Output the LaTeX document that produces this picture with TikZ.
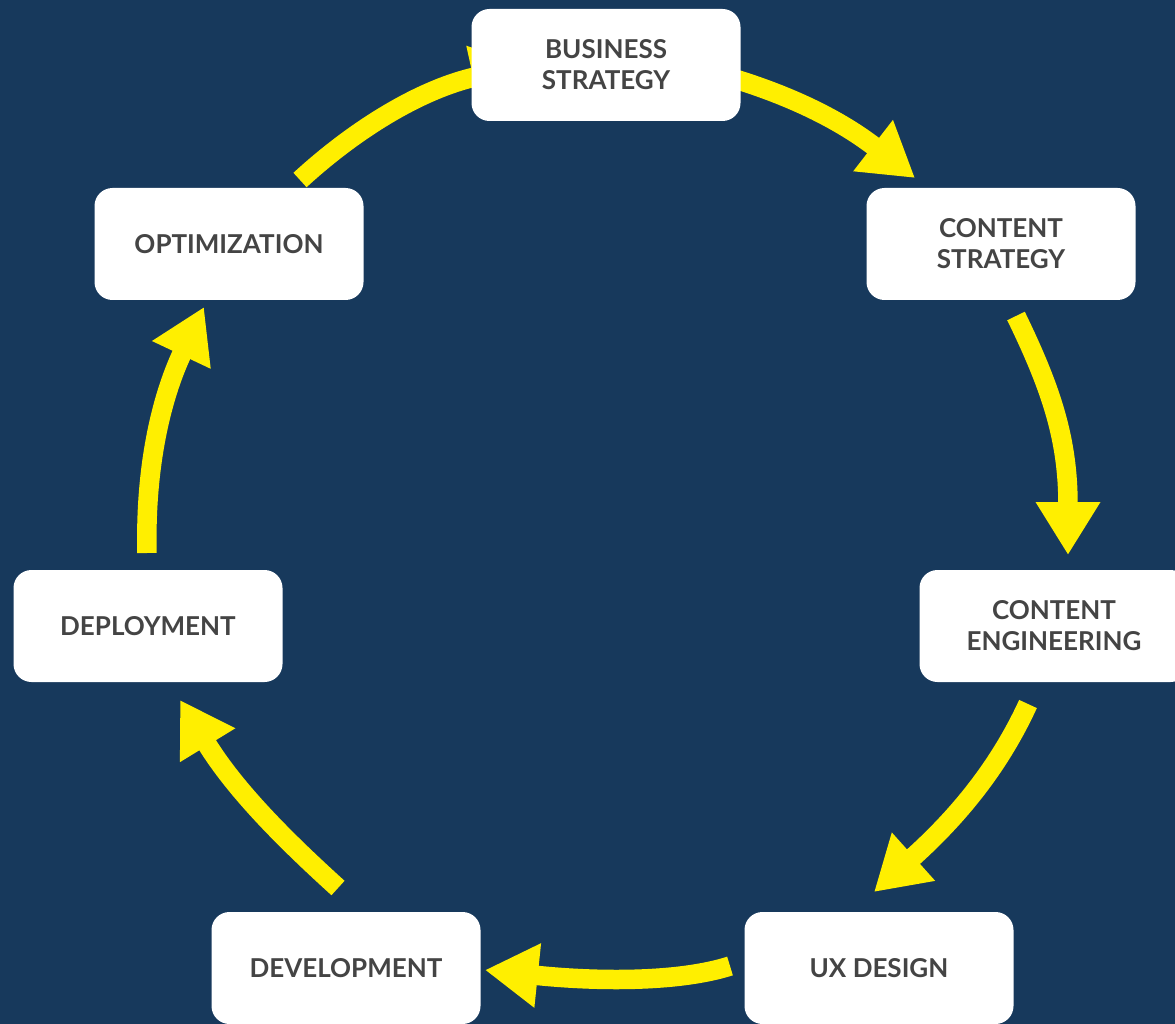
\documentclass[tikz,border=0pt]{standalone}
\usepackage{fontspec}
\setmainfont{Lato}
\usetikzlibrary{arrows.meta}

\definecolor{navy}{HTML}{17395C}
\definecolor{sunny}{HTML}{FFEF00}
\definecolor{ink}{HTML}{444444}

\begin{document}
\begin{tikzpicture}[x=1pt,y=-1pt,
  stage/.style={fill=white, rounded corners=18pt, minimum width=269pt,
    minimum height=112pt, inner sep=0pt, align=center, text=ink,
    font=\bfseries\fontsize{26}{31}\selectfont},
  flow/.style={draw=sunny, line width=19.5pt,
    -{Triangle[length=53pt,width=61pt]}}]

% backdrop and page size
\fill[navy] (0,0) rectangle (1175,1024);
\useasboundingbox (0,0) rectangle (1175,1024);

% loose ends of the cycle arrows
\coordinate (a1s) at (300,180);  \coordinate (a1e) at (525,66);
\coordinate (a2s) at (725,76);   \coordinate (a2e) at (915,178);
\coordinate (a3s) at (1016,316); \coordinate (a3e) at (1068,555);
\coordinate (a4s) at (1028,704); \coordinate (a4e) at (874,892);
\coordinate (a5s) at (730,966);  \coordinate (a5e) at (485,970);
\coordinate (a6s) at (338,888);  \coordinate (a6e) at (180,700);
\coordinate (a7s) at (147,553);  \coordinate (a7e) at (204,307);

% arrows first, so the boxes sit on top of them
\draw[flow] (a1s) .. controls (360,125) and (425,88) .. (a1e);
\draw[flow] (a2s) .. controls (790,95) and (840,120) .. (a2e);
\draw[flow] (a3s) .. controls (1052,390) and (1068,440) .. (a3e);
\draw[flow] (a4s) .. controls (1000,765) and (960,815) .. (a4e);
\draw[flow] (a5s) .. controls (680,982) and (600,982) .. (a5e);
\draw[flow] (a6s) .. controls (285,840) and (235,790) .. (a6e);
\draw[flow] (a7s) .. controls (145,470) and (160,400) .. (a7e);

% stages
\node[stage] (bus)   at (606,65)   {BUSINESS\\STRATEGY};
\node[stage] (cstr)  at (1001,244) {CONTENT\\STRATEGY};
\node[stage] (ceng)  at (1054,626) {CONTENT\\ENGINEERING};
\node[stage] (ux)    at (879,968)  {UX DESIGN};
\node[stage] (dev)   at (346,968)  {DEVELOPMENT};
\node[stage] (dep)   at (148,626)  {DEPLOYMENT};
\node[stage] (opt)   at (229,244)  {OPTIMIZATION};
\end{tikzpicture}
\end{document}
